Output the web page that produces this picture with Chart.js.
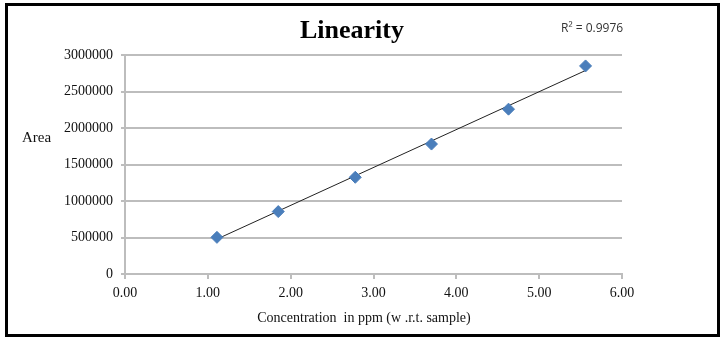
<!DOCTYPE html>
<html>
<head>
<meta charset="utf-8">
<script src="https://cdn.jsdelivr.net/npm/chart.js@4.4.1/dist/chart.umd.min.js"></script>
<style>
html,body{margin:0;padding:0;background:#fff;}
#wrap{width:723px;height:340px;position:relative;}
</style>
</head>
<body>
<div id="wrap"><canvas id="c" width="723" height="340"></canvas></div>
<script>
const concentration = [1.11, 1.85, 2.78, 3.70, 4.63, 5.56];
const area = [502000, 855000, 1325000, 1780000, 2258000, 2850000];
const trendX = [1.11, 5.56];
const trendY = [478000, 2788000];
const chartTitle = 'Linearity';
const rSquaredText = 'R\u00B2 = 0.9976';
const yAxisTitle = 'Area';
const xAxisTitle = 'Concentration  in ppm (w .r.t. sample)';

const serif = '"Liberation Serif", "Times New Roman", serif';

const decor = {
  id: 'decor',
  beforeDraw(chart) {
    const ctx = chart.ctx;
    ctx.save();
    ctx.fillStyle = '#fff';
    ctx.fillRect(0, 0, chart.width, chart.height);
    ctx.restore();
  },
  afterDraw(chart) {
    const ctx = chart.ctx;
    ctx.save();
    ctx.strokeStyle = '#000';
    ctx.lineWidth = 3;
    ctx.strokeRect(6.5, 4.5, 712, 331);
    ctx.fillStyle = '#000';
    ctx.textAlign = 'center';
    ctx.textBaseline = 'alphabetic';
    ctx.font = 'bold 26px ' + serif;
    ctx.fillText(chartTitle, 352, 38);
    ctx.font = '12px "Open Sans", "Liberation Sans", sans-serif';
    ctx.fillStyle = '#333';
    ctx.textAlign = 'left';
    ctx.textBaseline = 'middle';
    ctx.fillText(rSquaredText, 561, 29);
    ctx.fillStyle = '#111';
    ctx.font = '15px ' + serif;
    ctx.fillText(yAxisTitle, 22, 138);
    ctx.textAlign = 'center';
    ctx.font = '14px ' + serif;
    ctx.fillText(xAxisTitle, 364, 318);
    ctx.restore();
  }
};

new Chart(document.getElementById('c'), {
  type: 'scatter',
  data: {
    datasets: [
      {
        label: 'Trend',
        data: trendX.map((x, i) => ({x, y: trendY[i]})),
        showLine: true,
        borderColor: '#222',
        borderWidth: 1,
        pointRadius: 0,
        fill: false,
        order: 1
      },
      {
        label: 'Area',
        data: concentration.map((x, i) => ({x, y: area[i]})),
        pointStyle: 'rectRot',
        pointRadius: 6,
        backgroundColor: '#4a7ebb',
        borderColor: '#4a7ebb',
        borderWidth: 1,
        order: 0
      }
    ]
  },
  plugins: [decor],
  options: {
    responsive: false,
    animation: false,
    layout: { padding: { left: 20, top: 55, right: 101, bottom: 0 } },
    plugins: { legend: { display: false }, tooltip: { enabled: false }, title: { display: false } },
    scales: {
      x: {
        type: 'linear',
        min: 0, max: 6,
        afterFit(s) { s.height = 66; },
        ticks: { stepSize: 1, padding: 6, color: '#111', font: { family: serif, size: 14 },
                 callback: v => Number(v).toFixed(2), maxRotation: 0 },
        grid: { drawOnChartArea: false, drawTicks: true, tickLength: 5, color: '#bdbdbd', lineWidth: 2 },
        border: { color: '#bdbdbd', width: 2 }
      },
      y: {
        min: 0, max: 3000000,
        afterFit(s) { s.width = 105; },
        ticks: { stepSize: 500000, padding: 8, color: '#111', font: { family: serif, size: 14 },
                 callback: v => String(Math.round(v)) },
        grid: { drawOnChartArea: true, drawTicks: true, tickLength: 4, color: '#bdbdbd', lineWidth: 2 },
        border: { color: '#bdbdbd', width: 2 }
      }
    }
  }
});
</script>
</body>
</html>
